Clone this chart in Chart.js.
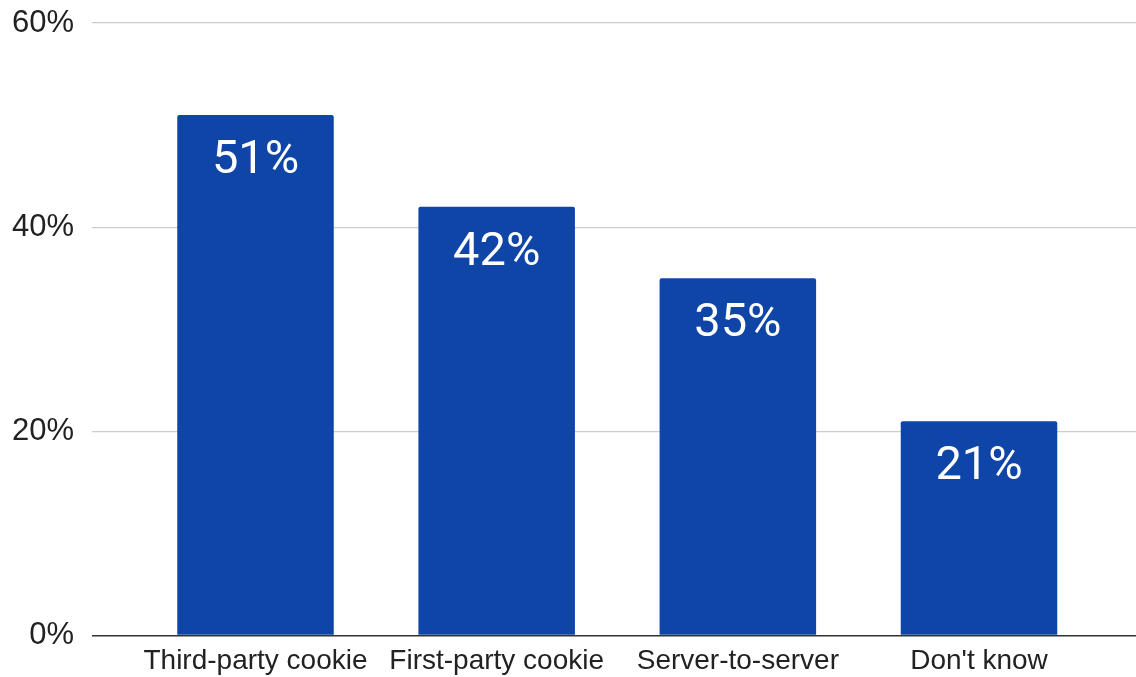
<!DOCTYPE html>
<html>
<head>
<meta charset="utf-8">
<script src="https://cdn.jsdelivr.net/npm/chart.js@4.4.1/dist/chart.umd.min.js"></script>
<style>
  html, body { margin: 0; padding: 0; background: #ffffff; }
  #wrap { width: 1136px; height: 677px; position: relative; }
</style>
</head>
<body>
<div id="wrap"><canvas id="c"></canvas></div>
<script>
const categories = ["Third-party cookie", "First-party cookie", "Server-to-server", "Don't know"];
const values = [51, 42, 35, 21];
const yTicks = [0, 20, 40, 60];

const barColor = '#1045a8';

const dataLabelPlugin = {
  id: 'dataLabels',
  afterDatasetsDraw(chart) {
    const ctx = chart.ctx;
    const meta = chart.getDatasetMeta(0);
    ctx.save();
    ctx.fillStyle = '#ffffff';
    ctx.font = '47px Roboto';
    ctx.textAlign = 'center';
    ctx.textBaseline = 'alphabetic';
    meta.data.forEach((el, i) => {
      ctx.fillText(values[i] + '%', el.x, el.y + 58);
    });
    ctx.restore();
  }
};

new Chart(document.getElementById('c'), {
  type: 'bar',
  data: {
    datasets: [{
      data: values.map((v, i) => ({ x: i, y: v })),
      backgroundColor: barColor,
      borderRadius: { topLeft: 2, topRight: 2, bottomLeft: 0, bottomRight: 0 },
      borderSkipped: 'start',
      barPercentage: 0.649,
      categoryPercentage: 1.0
    }]
  },
  options: {
    responsive: true,
    maintainAspectRatio: false,
    animation: false,
    devicePixelRatio: 1,
    layout: { padding: { top: 23, right: 0, bottom: 0, left: 0 } },
    plugins: {
      legend: { display: false },
      tooltip: { enabled: false }
    },
    scales: {
      x: {
        type: 'linear',
        offset: false,
        min: -0.678,
        max: 3.651,
        grid: { display: false, drawTicks: false, offset: false },
        border: { display: false },
        afterBuildTicks(scale) {
          scale.ticks = categories.map((c, i) => ({ value: i }));
        },
        afterFit(scale) {
          scale.height = 41.5;
          scale.paddingLeft = 0; scale.paddingRight = 0;
        },
        ticks: {
          autoSkip: false,
          maxRotation: 0,
          padding: 9,
          color: '#222222',
          font: { family: 'Liberation Sans, Arial', size: 28 },
          callback: (v) => categories[v] !== undefined ? categories[v] : ''
        }
      },
      y: {
        min: 0,
        max: 60,
        afterBuildTicks(scale) {
          scale.ticks = yTicks.map(v => ({ value: v }));
        },
        afterFit(scale) {
          scale.width = 92;
          scale.paddingTop = 0; scale.paddingBottom = 0;
        },
        border: { display: false },
        grid: {
          drawTicks: false,
          color: (c) => c.tick && c.tick.value === 0 ? '#333333' : '#cccccc',
          lineWidth: (c) => c.tick && c.tick.value === 0 ? 1.5 : 1.2
        },
        ticks: {
          padding: 18,
          color: '#222222',
          font: { family: 'Liberation Sans, Arial', size: 31 },
          callback: (v) => v + '%'
        }
      }
    }
  },
  plugins: [dataLabelPlugin]
});
</script>
</body>
</html>
